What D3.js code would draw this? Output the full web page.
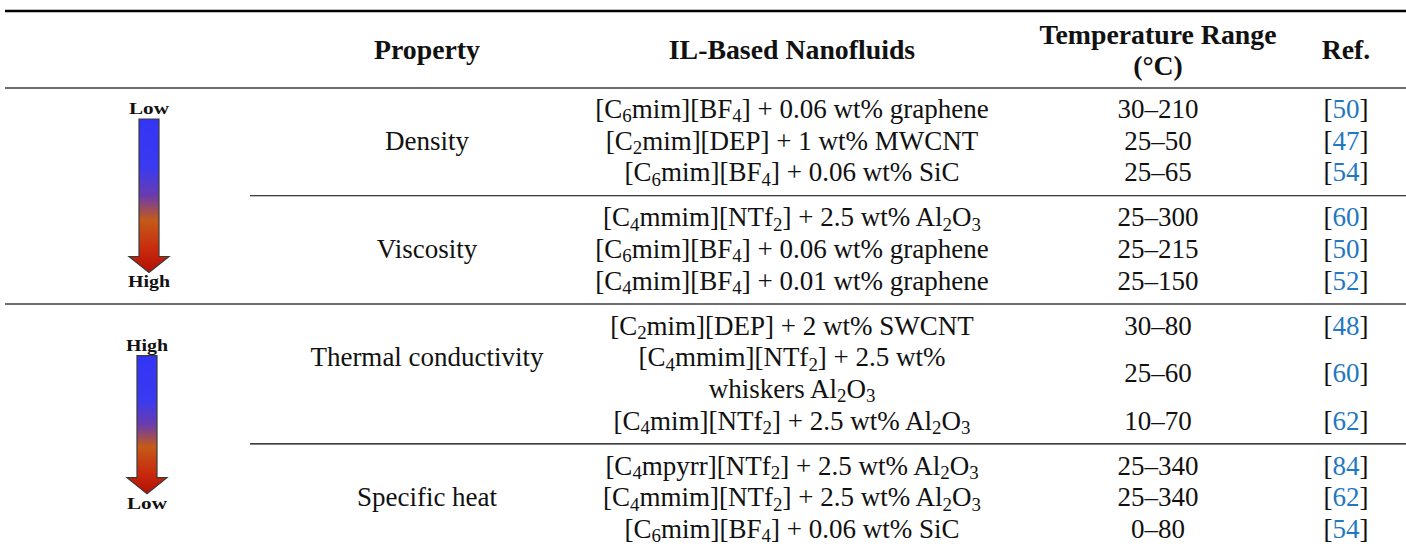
<!DOCTYPE html>
<html>
<head>
<meta charset="utf-8">
<script src="https://cdn.jsdelivr.net/npm/d3@7"></script>
<style>
  html, body { margin: 0; padding: 0; background: #ffffff; }
  svg { display: block; }
</style>
</head>
<body>
<script>
//------------------------------------------------------------------------------
//
// Data
//
//------------------------------------------------------------------------------

var headers = [
  {col: "property", lines: ["Property"]},
  {col: "fluid",    lines: ["IL-Based Nanofluids"]},
  {col: "temp",     lines: ["Temperature Range", "(°C)"]},
  {col: "ref",      lines: ["Ref."]}
];

// one entry per property (section); "_n" marks a subscript digit
var properties = ["Density", "Viscosity", "Thermal conductivity", "Specific heat"];
var propertyLine = [1, 1, 1, 1];   // line of the section the label sits on

var nanofluids = [
  ["[C_6mim][BF_4] + 0.06 wt% graphene", "[C_2mim][DEP] + 1 wt% MWCNT", "[C_6mim][BF_4] + 0.06 wt% SiC"],
  ["[C_4mmim][NTf_2] + 2.5 wt% Al_2O_3", "[C_6mim][BF_4] + 0.06 wt% graphene", "[C_4mim][BF_4] + 0.01 wt% graphene"],
  ["[C_2mim][DEP] + 2 wt% SWCNT", "[C_4mmim][NTf_2] + 2.5 wt%|whiskers Al_2O_3", "[C_4mim][NTf_2] + 2.5 wt% Al_2O_3"],
  ["[C_4mpyrr][NTf_2] + 2.5 wt% Al_2O_3", "[C_4mmim][NTf_2] + 2.5 wt% Al_2O_3", "[C_6mim][BF_4] + 0.06 wt% SiC"]
];

var tempRanges = [
  ["30–210", "25–50", "25–65"],
  ["25–300", "25–215", "25–150"],
  ["30–80", "25–60", "10–70"],
  ["25–340", "25–340", "0–80"]
];

var refs = [
  ["50", "47", "54"],
  ["60", "50", "52"],
  ["48", "60", "62"],
  ["84", "62", "54"]
];

// trend arrows: which sections they span and their end labels
var arrowLabels = [["Low", "High"], ["High", "Low"]];
var arrowSections = [[0, 1], [2, 3]];


//------------------------------------------------------------------------------
//
// Layout
//
//------------------------------------------------------------------------------

var W = 1406, H = 549;
var FONT = "'Liberation Serif', 'Times New Roman', serif";
var bodySize = 27, headSize = 27.8;

var svg = d3.select("body").append("svg")
  .attr("width", W)
  .attr("height", H);

var x = d3.scaleOrdinal()
  .domain(["trend", "property", "fluid", "temp", "ref"])
  .range([149, 427, 792, 1158, 1346]);

// y of a text line: slot counts lines, each new section adds a gap
var lineY = d3.scaleLinear().domain([0, 1]).range([110, 141.6]);
var sectionGap = 13.5;

// flatten into rows with a slot index
var rows = [], slot = 0, sectionFirst = [], sectionLast = [];
properties.forEach(function(p, k) {
  sectionFirst.push(slot);
  nanofluids[k].forEach(function(f, i) {
    var lines = f.split("|");
    rows.push({
      section: k,
      fluidLines: lines,
      slot: slot,
      mid: slot + (lines.length - 1) / 2,
      temp: tempRanges[k][i],
      ref: refs[k][i]
    });
    slot += lines.length;
  });
  sectionLast.push(slot - 1);
});

function yAt(s, k) { return lineY(s) + k * sectionGap; }

//--------------------------------------
// Rich text (subscripts)
//--------------------------------------

function richText(sel, str, size) {
  var parts = str.split(/(_\d)/).filter(function(s) { return s.length; });
  var shifted = false, shift = size * 0.16;
  parts.forEach(function(p) {
    var t = sel.append("tspan");
    if (p.charAt(0) == "_") {
      t.text(p.slice(1)).attr("font-size", size * 0.7).attr("dy", shift);
      shifted = true;
    } else {
      t.text(p);
      if (shifted) { t.attr("dy", -shift); shifted = false; }
    }
  });
}

//--------------------------------------
// Rules
//--------------------------------------

var rules = [
  {x1: 5, y: 11, stroke: "#000000", w: 2.5},
  {x1: 5, y: 88, stroke: "#6e6e6e", w: 2}
];
for (var k = 1; k < properties.length; k++) {
  var yy = (yAt(sectionLast[k - 1], k - 1) + yAt(sectionFirst[k], k)) / 2;
  if (k == 2) rules.push({x1: 5, y: yy, stroke: "#6e6e6e", w: 2});
  else rules.push({x1: 250, y: yy, stroke: "#000000", w: 1.2});
}

svg.append("g").selectAll("line")
  .data(rules)
  .enter().append("line")
    .attr("x1", function(d) { return d.x1; })
    .attr("x2", W)
    .attr("y1", function(d) { return d.y; })
    .attr("y2", function(d) { return d.y; })
    .attr("stroke", function(d) { return d.stroke; })
    .attr("stroke-width", function(d) { return d.w; });

//--------------------------------------
// Header
//--------------------------------------

var head = svg.append("g")
  .attr("font-family", FONT)
  .attr("font-weight", "bold")
  .attr("font-size", headSize)
  .attr("text-anchor", "middle")
  .attr("fill", "#111");

headers.forEach(function(h) {
  var y0 = h.lines.length == 1 ? 50 : 35;
  h.lines.forEach(function(l, i) {
    head.append("text")
      .attr("x", x(h.col))
      .attr("y", y0 + i * 31)
      .attr("dy", "0.33em")
      .text(l);
  });
});

//--------------------------------------
// Body
//--------------------------------------

var body = svg.append("g")
  .attr("font-family", FONT)
  .attr("font-size", bodySize)
  .attr("text-anchor", "middle")
  .attr("fill", "#111");

properties.forEach(function(p, k) {
  body.append("text")
    .attr("x", x("property"))
    .attr("y", yAt(sectionFirst[k] + propertyLine[k], k))
    .attr("dy", "0.3em")
    .text(p);
});

rows.forEach(function(r) {
  r.fluidLines.forEach(function(l, i) {
    body.append("text")
      .attr("x", x("fluid"))
      .attr("y", yAt(r.slot + i, r.section))
      .attr("dy", "0.3em")
      .call(richText, l, bodySize);
  });
  body.append("text")
    .attr("x", x("temp"))
    .attr("y", yAt(r.mid, r.section))
    .attr("dy", "0.3em")
    .text(r.temp);
  var t = body.append("text")
    .attr("x", x("ref"))
    .attr("y", yAt(r.mid, r.section))
    .attr("dy", "0.3em");
  t.append("tspan").text("[");
  t.append("tspan").attr("fill", "#1f78c1").text(r.ref);
  t.append("tspan").text("]");
});

//--------------------------------------
// Trend arrows
//--------------------------------------

var defs = svg.append("defs");
var grad = defs.append("linearGradient")
  .attr("id", "trend-grad")
  .attr("x1", 0).attr("y1", 0).attr("x2", 0).attr("y2", 1);
[
  [0, "#3434f6"], [0.32, "#3a3af0"], [0.5, "#6a3cae"],
  [0.66, "#c45a18"], [0.85, "#c82a0e"], [1, "#b41002"]
].forEach(function(s) {
  grad.append("stop").attr("offset", s[0]).attr("stop-color", s[1]);
});

var arrows = arrowSections.map(function(sec, i) {
  var a = sec[0], b = sec[1];
  var top = yAt(sectionFirst[a], a), bot = yAt(sectionLast[b], b);
  return i == 0
    ? {labels: arrowLabels[i], top: top - 2, bottom: bot, cx: x("trend")}
    : {labels: arrowLabels[i], top: top + 18, bottom: bot - 27, cx: x("trend") - 2};
});

var ag = svg.append("g").selectAll("g")
  .data(arrows)
  .enter().append("g");

ag.append("path")
  .attr("d", function(d) {
    var s = 10, hw = 20;
    var y0 = d.top + 11, tip = d.bottom - 9, hy = tip - 16;
    return "M" + (d.cx - s) + "," + y0 + "L" + (d.cx + s) + "," + y0 +
      "L" + (d.cx + s) + "," + hy + "L" + (d.cx + hw) + "," + hy +
      "L" + d.cx + "," + tip + "L" + (d.cx - hw) + "," + hy +
      "L" + (d.cx - s) + "," + hy + "Z";
  })
  .attr("fill", "url(#trend-grad)")
  .attr("stroke", "#3a3a3a")
  .attr("stroke-width", 1.2);

ag.selectAll("text")
  .data(function(d) {
    return [{t: d.labels[0], x: d.cx, y: d.top}, {t: d.labels[1], x: d.cx, y: d.bottom}];
  })
  .enter().append("text")
    .attr("x", function(d) { return d.x; })
    .attr("y", function(d) { return d.y; })
    .attr("dy", "0.35em")
    .attr("text-anchor", "middle")
    .attr("font-family", FONT)
    .attr("font-weight", "bold")
    .attr("font-size", 17)
    .attr("textLength", function(d) { return d.t == "Low" ? 40 : 42; })
    .attr("lengthAdjust", "spacingAndGlyphs")
    .attr("fill", "#111")
    .text(function(d) { return d.t; });
</script>
</body>
</html>
